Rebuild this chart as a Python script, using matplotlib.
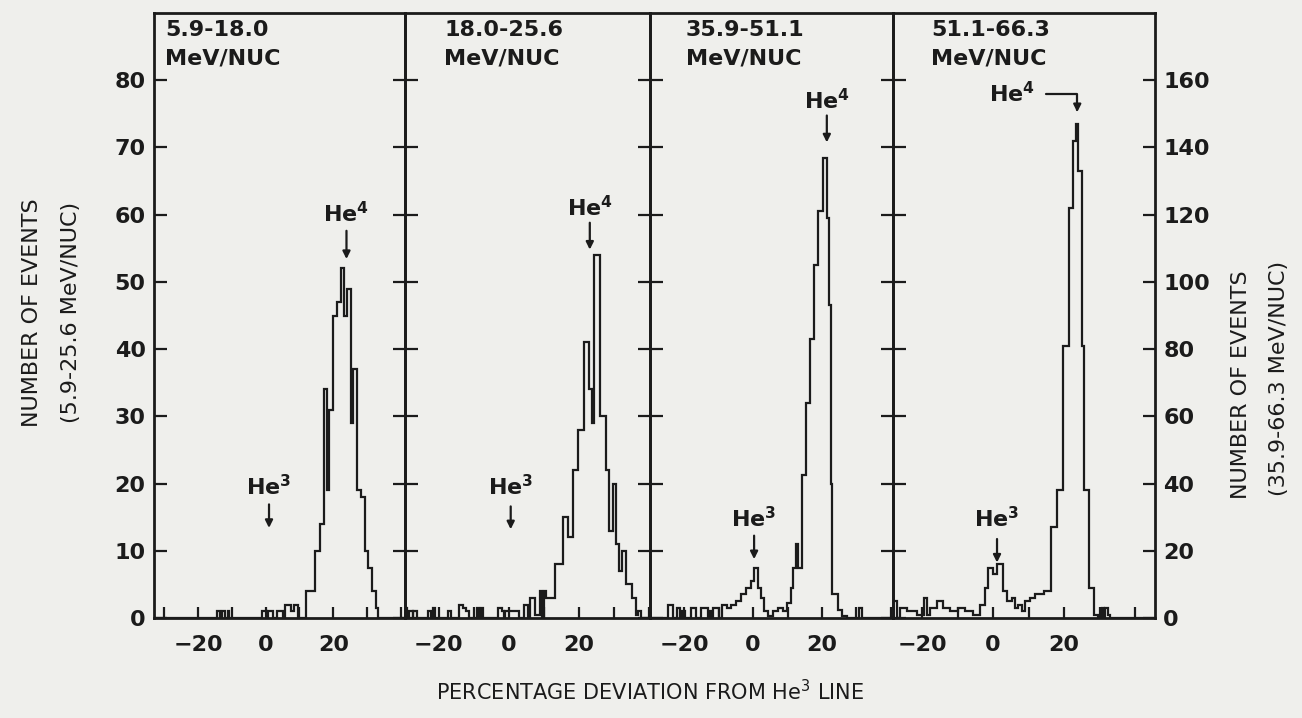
import matplotlib
matplotlib.use("Agg")
import matplotlib.pyplot as plt
from matplotlib.ticker import FixedLocator, NullFormatter

# ---------------- data ----------------
panel_titles = ["5.9-18.0", "18.0-25.6", "35.9-51.1", "51.1-66.3"]
panel_units = "MeV/NUC"

# panel 1 (left scale, 5.9-18.0 MeV/NUC)
p1_edges = [-33, -14.5, -13.5, -13, -12, -11.2, -10.8, -1, 0.3, 0.8, 2.2, 3.5, 5.0, 5.8, 7.5, 8.5, 9.5,
            12.0, 14.5, 16.0, 17.2, 18.1, 18.8, 19.8, 21.2, 22.4, 23.3, 24.1, 25.2, 25.8, 27.0,
            28.2, 29.3, 30.2, 31.4, 32.5, 33.3, 41.2]
p1_counts = [0, 1, 0, 1, 0, 1, 0, 1, 0, 1, 0, 1, 0, 2, 1, 2, 0,
             4, 10, 14, 34, 19, 31, 45, 47, 52, 45, 49, 29, 37,
             19, 18, 10, 7.5, 4, 1.5, 0]

# panel 2 (left scale, 18.0-25.6 MeV/NUC)
p2_edges = [-29.7, -29.2, -28.5, -27.5, -27.3, -26.3, -23, -22.3, -21.8, -21.2, -17.3, -16.7, -14.3,
            -13, -12.2, -11.3, -9, -8.5, -8, -7.5, -3, -2, -1.3, -1, 3, 4.3, 5.3, 6.0, 7.4, 8.9,
            9.5, 9.9, 10.5, 13.1, 15.3, 16.9, 18.3, 19.7, 21.3, 22.8, 23.7, 24.4, 25.9, 27.7,
            28.7, 29.6, 30.5, 31.4, 32.3, 33.4, 35.1, 36.2, 36.8, 37.6, 40.3]
p2_counts = [1.5, 0, 1, 0, 1, 0, 1, 0, 1.5, 0,
             1, 0, 2, 1.5, 1, 0, 1.5, 0, 1.5, 0,
             1.5, 1, 0, 1, 0, 2, 0, 3, 0.5, 4,
             0, 4, 3, 8, 15, 12, 22, 28, 41, 34,
             29, 54, 30, 22, 13, 20, 11, 7, 10, 5,
             3, 0.5, 1, 0]

# panel 3 (right scale, 35.9-51.1 MeV/NUC)
p3_edges = [-29.9, -24.6, -23.2, -22.2, -21.3, -20.5, -19.8, -18, -16.5, -15, -13, -12.5, -11.8,
            -11.5, -10, -9, -7.5, -6.5, -5.0, -3.5, -2.0, -0.6, 0.2, 1.3, 2.3, 3.3, 4.3, 5.7, 7.2,
            8.6, 9.8, 10.9, 11.5, 12.5, 12.9, 14.1, 15.3, 16.5, 17.8, 18.9, 20.2, 21.4, 22.0,
            22.5, 22.9, 24.7, 25.7, 27.3, 30.8, 31.5, 40.6]
p3_counts = [0, 4, 0, 3, 0, 2, 0, 3, 0, 3, 0, 2,
             0, 3, 0, 4, 3, 4, 5, 7, 9, 11, 15, 9, 6, 2, 0.5, 2,
             3, 2, 4.5, 9, 15, 22, 15, 42.5, 64, 83, 105, 121, 137, 119,
             93, 40, 7, 2.4, 0.5, 0, 3, 0]

# panel 4 (right scale, 51.1-66.3 MeV/NUC)
p4_edges = [-28.2, -27.1, -26.2, -24.3, -21.5, -19.6, -18.7, -17.7, -15.9, -14, -12.1, -9.8, -7.9,
            -5.6, -3.7, -2.3, -1.3, 0.1, 1.0, 2.9, 3.9, 5.3, 6.2, 7.1, 8.0, 9.0, 10.4, 11.8, 14.2,
            16.2, 18.0, 19.8, 21.5, 22.6, 23.4, 24.0, 25.0, 25.6, 26.9, 28.3, 29.5, 30.6, 31.2,
            31.6, 32.4, 33.0, 45.6]
p4_counts = [5, 0, 3, 2, 1, 6, 1, 3, 5, 3, 2, 3, 2, 1, 4, 9,
             15, 13, 16, 8, 5, 6, 3, 4, 2, 5, 6, 7, 8, 27,
             38, 81, 122, 142, 147, 133, 81, 38, 9, 1, 0, 3, 0, 3, 1, 0]

left_ticks = [0, 10, 20, 30, 40, 50, 60, 70, 80]
right_ticks = [0, 20, 40, 60, 80, 100, 120, 140, 160]
x_major = [-20, 0, 20]
x_minor = [-30, -10, 10, 30, 40]

# ---------------- style ----------------
ink = "#1b1b1b"
bg = "#efefec"
plt.rcParams["font.family"] = ["DejaVu Sans"]

W, H = 1302, 718
fig = plt.figure(figsize=(W / 100, H / 100), dpi=100)
fig.patch.set_facecolor(bg)

bounds = [(154, 405), (405, 650), (650, 893), (893, 1155)]
y_bottom, y_top = 618, 13
edges_all = [p1_edges, p2_edges, p3_edges, p4_edges]
counts_all = [p1_counts, p2_counts, p3_counts, p4_counts]

axes = []
for i, (l, r) in enumerate(bounds):
    ax = fig.add_axes([l / W, (H - y_bottom) / H, (r - l) / W, (y_bottom - y_top) / H])
    ax.set_facecolor("none")
    e = edges_all[i]
    ax.stairs(counts_all[i], e, color=ink, lw=1.6)
    ax.set_xlim(e[0], e[-1])
    if i < 2:
        ax.set_ylim(0, 90)
        ax.set_yticks(left_ticks)
    else:
        ax.set_ylim(0, 180)
        ax.set_yticks(right_ticks)
    ax.xaxis.set_major_locator(FixedLocator(x_major))
    ax.xaxis.set_minor_locator(FixedLocator([v for v in x_minor if e[0] < v < e[-1]]))
    ax.xaxis.set_minor_formatter(NullFormatter())
    ax.set_xticklabels([str(v).replace("-", "\u2212") if v < 0 else str(v) for v in x_major],
                       fontweight="bold")
    ax.tick_params(axis="x", which="both", direction="in", length=8, width=1.6, color=ink,
                   labelsize=16, labelcolor=ink, pad=12, top=False)
    ax.tick_params(axis="y", which="major", direction="in", length=9, width=1.6, color=ink,
                   left=True, right=True, labelleft=(i == 0), labelright=(i == 3),
                   labelsize=16, labelcolor=ink, pad=6)
    for lab in ax.get_yticklabels():
        lab.set_fontweight("bold")
    for s in ax.spines.values():
        s.set_linewidth(2.0)
        s.set_color(ink)
    axes.append(ax)

ax1, ax2, ax3, ax4 = axes

# panel titles
title_x = [165, 444, 686, 931]
for tx, t in zip(title_x, panel_titles):
    fig.text(tx / W, 1 - 30 / H, t, ha="left", va="center", fontsize=16, fontweight="bold", color=ink)
    fig.text(tx / W, 1 - 58 / H, panel_units, ha="left", va="center", fontsize=16, fontweight="bold", color=ink)

arrow_kw = dict(arrowstyle="-|>", color=ink, lw=1.6, mutation_scale=11, shrinkA=0, shrinkB=0)
lab_kw = dict(ha="center", va="center", fontsize=16, fontweight="bold", color=ink)


def mark(ax, x, ytext, ytail, yhead, label):
    ax.text(x, ytext, label, **lab_kw)
    ax.annotate("", xy=(x, yhead), xytext=(x, ytail), arrowprops=arrow_kw)


mark(ax1, 23.9, 60.2, 57.6, 53.4, r"He$^{\mathbf{4}}$")
mark(ax1, 1.0, 19.5, 16.9, 13.4, r"He$^{\mathbf{3}}$")
mark(ax2, 23.1, 61.1, 58.8, 54.8, r"He$^{\mathbf{4}}$")
mark(ax2, 0.5, 19.5, 16.6, 13.2, r"He$^{\mathbf{3}}$")
mark(ax3, 21.4, 154, 149.5, 141.5, r"He$^{\mathbf{4}}$")
mark(ax3, 0.3, 29.5, 24.5, 17.5, r"He$^{\mathbf{3}}$")
mark(ax4, 1.1, 29.5, 23.5, 16.5, r"He$^{\mathbf{3}}$")
ax4.annotate(r"He$^{\mathbf{4}}$", xy=(23.7, 150.5), xytext=(5.4, 156), **lab_kw,
             arrowprops=dict(arrowstyle="-|>", color=ink, lw=1.6, mutation_scale=11,
                             shrinkA=6, shrinkB=0,
                             connectionstyle="angle,angleA=0,angleB=90,rad=0"))

# axis labels
fig.text(650 / W, 1 - 692 / H, r"PERCENTAGE DEVIATION FROM He$^3$ LINE", ha="center", va="center",
         fontsize=15, color=ink)
fig.text(32 / W, 1 - 313 / H, "NUMBER OF EVENTS", rotation=90, ha="center", va="center",
         fontsize=16, color=ink)
fig.text(71 / W, 1 - 312 / H, "(5.9-25.6 MeV/NUC)", rotation=90, ha="center", va="center",
         fontsize=16, color=ink)
fig.text(1241 / W, 1 - 385 / H, "NUMBER OF EVENTS", rotation=90, ha="center", va="center",
         fontsize=16, color=ink)
fig.text(1279 / W, 1 - 378 / H, "(35.9-66.3 MeV/NUC)", rotation=90, ha="center", va="center",
         fontsize=16, color=ink)

fig.savefig("out.png", dpi=100, facecolor=bg)
